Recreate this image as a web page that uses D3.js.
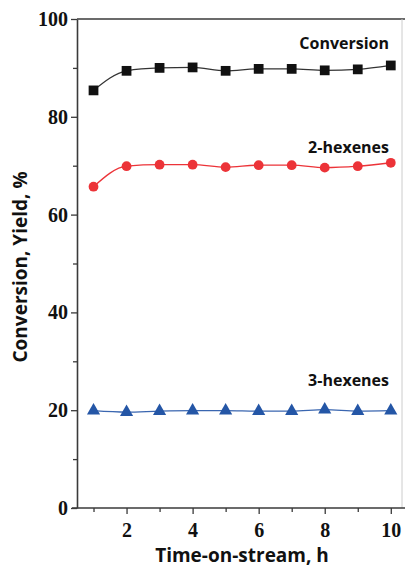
<!DOCTYPE html>
<html lang="en">
<head>
  <meta charset="UTF-8">
  <title>Conversion and yield vs time-on-stream</title>
  <script src="https://d3js.org/d3.v7.min.js"></script>
  <style>
    body { margin: 0; background: #fff; }
    .tick text { font-family: "Liberation Serif", serif; font-weight: bold; font-size: 20px; fill: #111; }
    .lbl { font-family: "Open Sans", sans-serif; font-weight: bold; fill: #111; }
  </style>
</head>
<body>
<svg id="canvas" width="406" height="567"></svg>
<script>
  // data
  const hours = [1, 2, 3, 4, 5, 6, 7, 8, 9, 10];
  const conversion = [85.4, 89.4, 90.0, 90.1, 89.4, 89.8, 89.8, 89.5, 89.7, 90.5];
  const hexenes2 = [65.7, 69.9, 70.2, 70.2, 69.7, 70.1, 70.1, 69.6, 69.9, 70.6];
  const hexenes3 = [19.9, 19.6, 19.8, 19.9, 19.9, 19.8, 19.8, 20.1, 19.8, 19.9];
  const xTicks = [2, 4, 6, 8, 10];
  const xMinor = [1, 3, 5, 7, 9];
  const yTicks = [0, 20, 40, 60, 80, 100];
  const yMinor = [10, 30, 50, 70, 90];

  const svg = d3.select("#canvas");
  const x = d3.scaleLinear().domain([0.5, 10.4]).range([77, 404]);
  const y = d3.scaleLinear().domain([0, 100]).range([508, 19]);
  const axisCol = "#3a3a3a";

  // frame (top + faint right)
  svg.append("line").attr("x1", 77).attr("x2", 405).attr("y1", y(100)).attr("y2", y(100))
    .attr("stroke", axisCol).attr("stroke-width", 1.6);
  svg.append("line").attr("x1", 402).attr("x2", 402).attr("y1", y(100)).attr("y2", y(0))
    .attr("stroke", "#ccc").attr("stroke-width", 1);

  // minor ticks
  svg.append("g").attr("transform", "translate(0," + y(0) + ")")
    .call(d3.axisBottom(x).tickValues(xMinor).tickSize(4).tickFormat(""))
    .call(g => g.select(".domain").remove());
  svg.append("g").attr("transform", "translate(" + x(0.5) + ",0)")
    .call(d3.axisLeft(y).tickValues(yMinor).tickSize(4).tickFormat(""))
    .call(g => g.select(".domain").remove());

  // main axes
  const xa = svg.append("g").attr("transform", "translate(0," + y(0) + ")")
    .call(d3.axisBottom(x).tickValues(xTicks).tickSize(6).tickSizeOuter(0).tickPadding(9));
  const ya = svg.append("g").attr("transform", "translate(" + x(0.5) + ",0)")
    .call(d3.axisLeft(y).tickValues(yTicks).tickSize(6).tickSizeOuter(0).tickPadding(3));
  svg.selectAll(".domain").attr("stroke", axisCol).attr("stroke-width", 1.6);
  svg.selectAll(".tick line").attr("stroke", axisCol).attr("stroke-width", 1.3);
  xa.select(".domain").attr("d", "M72,0H405");

  // series
  const series = [
    { vals: conversion, color: "#111", line: "#333", shape: d3.symbolSquare, size: 95, name: "Conversion", ly: 49 },
    { vals: hexenes2, color: "#ec3338", line: "#ec3338", shape: d3.symbolCircle, size: 75, name: "2-hexenes", ly: 153 },
    { vals: hexenes3, color: "#2456a6", line: "#3a66b0", shape: d3.symbolTriangle, size: 75, name: "3-hexenes", ly: 386 }
  ];

  series.forEach(s => {
    const pts = hours.map((h, i) => [h, s.vals[i]]);
    svg.append("path")
      .attr("d", d3.line().x(d => x(d[0])).y(d => y(d[1])).curve(d3.curveMonotoneX)(pts))
      .attr("fill", "none").attr("stroke", s.line).attr("stroke-width", 1.3);
    svg.append("g").selectAll("path").data(pts).enter().append("path")
      .attr("transform", d => "translate(" + x(d[0]) + "," + y(d[1]) + ")")
      .attr("d", d3.symbol().type(s.shape).size(s.size))
      .attr("fill", s.color);
    svg.append("text").attr("class", "lbl")
      .attr("x", 389).attr("y", s.ly).attr("text-anchor", "end")
      .attr("font-size", 16).text(s.name);
  });

  // axis titles
  svg.append("text").attr("class", "lbl")
    .attr("x", 242).attr("y", 562).attr("text-anchor", "middle")
    .attr("font-size", 19).text("Time-on-stream, h");
  svg.append("text").attr("class", "lbl")
    .attr("transform", "translate(27,267) rotate(-90)").attr("text-anchor", "middle")
    .attr("font-size", 19).text("Conversion, Yield, %");
</script>
</body>
</html>
